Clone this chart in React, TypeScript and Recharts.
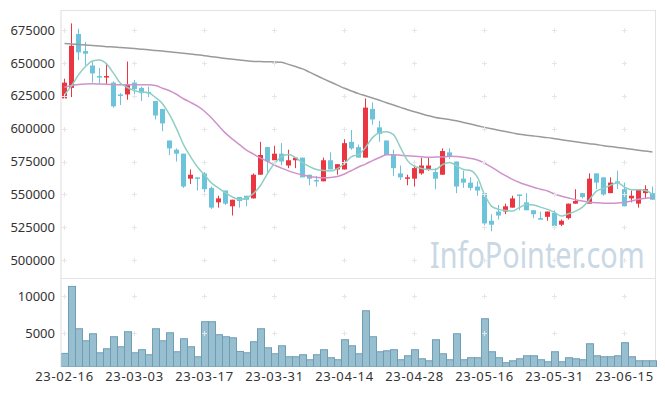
import { Bar, ComposedChart, Line, ReferenceDot, XAxis, YAxis } from "recharts";

const dates = [
  "23-02-16", "23-02-17", "23-02-20", "23-02-21", "23-02-22", "23-02-23", "23-02-24", "23-02-27", "23-02-28", "23-03-02",
  "23-03-03", "23-03-06", "23-03-07", "23-03-08", "23-03-09", "23-03-10", "23-03-13", "23-03-14", "23-03-15", "23-03-16",
  "23-03-17", "23-03-20", "23-03-21", "23-03-22", "23-03-23", "23-03-24", "23-03-27", "23-03-28", "23-03-29", "23-03-30",
  "23-03-31", "23-04-03", "23-04-04", "23-04-05", "23-04-06", "23-04-07", "23-04-10", "23-04-11", "23-04-12", "23-04-13",
  "23-04-14", "23-04-17", "23-04-18", "23-04-19", "23-04-20", "23-04-21", "23-04-24", "23-04-25", "23-04-26", "23-04-27",
  "23-04-28", "23-05-02", "23-05-03", "23-05-04", "23-05-08", "23-05-09", "23-05-10", "23-05-11", "23-05-12", "23-05-15",
  "23-05-16", "23-05-17", "23-05-18", "23-05-19", "23-05-22", "23-05-23", "23-05-24", "23-05-25", "23-05-26", "23-05-30",
  "23-05-31", "23-06-01", "23-06-02", "23-06-05", "23-06-07", "23-06-08", "23-06-09", "23-06-12", "23-06-13", "23-06-14",
  "23-06-15", "23-06-16", "23-06-19", "23-06-20", "23-06-21",
];

const open = [
  623000, 631000, 672000, 659000, 648000, 640000, 639000, 635000, 626000, 626000,
  635000, 631000, 628000, 621000, 615000, 591000, 584000, 581000, 562000, 563000,
  566000, 555000, 544000, 553000, 541000, 548000, 549000, 547000, 565000, 586000,
  576000, 581000, 572000, 576000, 578000, 565000, 561000, 560000, 576000, 569000,
  569000, 590000, 586000, 578000, 615000, 601000, 591000, 580000, 566000, 562000,
  562000, 566000, 569000, 567000, 565000, 582000, 575000, 562000, 559000, 556000,
  551000, 530000, 537000, 537000, 540000, 550000, 544000, 538000, 532000, 533000,
  536000, 527000, 532000, 543000, 551000, 543000, 566000, 563000, 551000, 560000,
  554000, 547000, 543000, 551000, 551000,
];
const high = [
  638000, 680000, 676000, 666000, 651000, 646000, 650000, 636000, 627000, 651000,
  637000, 632000, 632000, 621000, 615000, 591000, 585000, 581000, 569000, 563000,
  567000, 556000, 549000, 553000, 546000, 548000, 549000, 566000, 590000, 586000,
  587000, 589000, 584000, 578000, 578000, 565000, 564000, 578000, 582000, 573000,
  592000, 599000, 588000, 623000, 620000, 606000, 591000, 584000, 572000, 565000,
  572000, 578000, 578000, 570000, 585000, 585000, 575000, 568000, 563000, 560000,
  551000, 535000, 542000, 543000, 549000, 550000, 551000, 538000, 537000, 537000,
  538000, 531000, 543000, 554000, 551000, 566000, 566000, 563000, 563000, 568000,
  559000, 553000, 554000, 557000, 556000,
];
const low = [
  623000, 624000, 652000, 648000, 635000, 634000, 634000, 616000, 618000, 622000,
  624000, 621000, 624000, 607000, 598000, 580000, 575000, 555000, 558000, 553000,
  550000, 539000, 540000, 542000, 534000, 540000, 541000, 547000, 565000, 566000,
  573000, 572000, 570000, 570000, 563000, 557000, 556000, 560000, 569000, 565000,
  569000, 584000, 578000, 578000, 603000, 590000, 580000, 564000, 561000, 557000,
  556000, 565000, 568000, 554000, 565000, 577000, 551000, 555000, 553000, 549000,
  526000, 522000, 531000, 535000, 540000, 538000, 538000, 532000, 531000, 530000,
  526000, 526000, 531000, 543000, 547000, 543000, 554000, 549000, 551000, 554000,
  541000, 544000, 540000, 547000, 546000,
];
const close = [
  635000, 663000, 658000, 657000, 642000, 639000, 640000, 617000, 625000, 634000,
  630000, 627000, 627000, 610000, 604000, 585000, 581000, 556000, 565000, 562000,
  554000, 540000, 547000, 543000, 546000, 545000, 546000, 565000, 580000, 575000,
  581000, 575000, 576000, 578000, 563000, 562000, 560000, 576000, 569000, 573000,
  589000, 585000, 578000, 616000, 607000, 596000, 580000, 570000, 563000, 563000,
  570000, 572000, 572000, 562000, 583000, 579000, 556000, 559000, 555000, 553000,
  528000, 527000, 534000, 541000, 547000, 549000, 538000, 535000, 531000, 537000,
  526000, 530000, 543000, 545000, 548000, 562000, 559000, 550000, 559000, 559000,
  541000, 549000, 554000, 554000, 546000,
];
const volume = [
  2370, 11340, 5670, 4060, 5000, 2450, 2990, 4600, 3260, 5270,
  2450, 2860, 2190, 5670, 4060, 5130, 2590, 4330, 3260, 1920,
  6610, 6610, 4870, 4600, 4460, 2630, 2450, 3930, 5670, 3120,
  2320, 3390, 1920, 1920, 2190, 1520, 2190, 2860, 1790, 1520,
  4200, 3390, 2320, 8080, 4600, 2590, 2720, 2860, 1520, 2050,
  2860, 1650, 1380, 4200, 2320, 1520, 5000, 1520, 1790, 1790,
  7010, 2590, 1790, 1120, 1380, 1650, 2050, 2050, 1520, 1250,
  2590, 1250, 1790, 1650, 1520, 3660, 2050, 1920, 1920, 2050,
  3800, 1920, 1380, 1380, 1380,
];
const ma5 = [
  625750, 632550, 640900, 647200, 651500, 652250, 649250, 642200, 634600, 631300,
  628800, 627800, 627250, 623700, 618950, 610600, 600000, 587900, 578800, 570850,
  564750, 558700, 554900, 551300, 548100, 546200, 547350, 550750, 556800, 565900,
  573500, 578800, 580300, 578050, 574250, 571200, 568950, 568200, 567800, 569700,
  573500, 578800, 580300, 585600, 593200, 596950, 597700, 595450, 585600, 575750,
  571450, 569700, 568950, 568950, 572700, 574250, 571950, 568950, 568200, 562900,
  550000, 541150, 538650, 537850, 537350, 540150, 542400, 541900, 540350, 538650,
  536350, 533550, 535350, 537350, 540350, 546200, 552500, 554550, 557050, 558850,
  555550, 553550, 553550, 553050, 550000,
];
const ma20 = [
  631450, 632750, 633550, 633950, 634100, 633950, 633800, 633550, 633350, 633350,
  633350, 633350, 633350, 632900, 630700, 628800, 626150, 622750, 620050, 617050,
  613250, 608100, 602250, 596600, 592050, 587900, 583700, 580700, 577650, 575150,
  572350, 570050, 567950, 566200, 564750, 563650, 563050, 562700, 562900, 563650,
  565550, 568200, 570850, 573100, 575750, 578050, 580150, 580150, 579850, 579400,
  579000, 578650, 578350, 578400, 578550, 578950, 578800, 578250, 577400, 576150,
  573850, 570850, 567400, 564250, 561500, 559100, 557200, 555450, 554000, 552650,
  550350, 548700, 547350, 546050, 545000, 544100, 543650, 543400, 543400, 543550,
  544100, 545050, 546350, 547100, 547500,
];
const ma60 = [
  664800, 664400, 664000, 663600, 663200, 662800, 662350, 662050, 661650, 661300,
  660900, 660450, 660000, 659450, 658950, 658400, 657900, 657350, 656800, 656150,
  655450, 654750, 654100, 653400, 652800, 652200, 651650, 651150, 651000, 650850,
  650700, 650400, 648850, 647200, 645450, 642950, 640450, 637900, 635450, 633100,
  630700, 628650, 626650, 625000, 623350, 621600, 619750, 617950, 616200, 614400,
  612900, 611350, 609850, 608550, 607700, 606900, 606050, 604750, 603500, 602200,
  601000, 599900, 598850, 597800, 596800, 595750, 595050, 594450, 593850, 593200,
  592400, 591600, 590850, 590000, 589250, 588550, 587900, 587100, 586450, 585750,
  585050, 584400, 583650, 582950, 582250,
];

const priceTicks = [500000, 525000, 550000, 575000, 600000, 625000, 650000, 675000];
const volumeTicks = [5000, 10000];

const rows = dates.map((date, i) => ({
  date,
  open: open[i],
  high: high[i],
  low: low[i],
  close: close[i],
  range: [low[i], high[i]],
  volume: volume[i],
  ma5: ma5[i],
  ma20: ma20[i],
  ma60: ma60[i],
}));

// every 10th trading day gets a label and a grid cross
const gridDates = dates.filter((_, i) => i % 10 === 0);

const tickStyle = { fontSize: 13, fill: "#333" };

function Candle(props: any) {
  const { x, y, width, height, payload } = props;
  if (!payload || height == null) return null;
  const top = Math.min(y, y + height);
  const h = Math.abs(height);
  const span = payload.high - payload.low || 1;
  const toY = (v: number) => top + ((payload.high - v) / span) * h;
  const up = payload.close >= payload.open;
  const color = up ? "#eb3540" : "#6cc3da";
  const cx = Math.floor(x + width / 2) + 0.5;
  const yo = toY(payload.open);
  const yc = toY(payload.close);
  const bodyTop = Math.min(yo, yc);
  const bodyH = Math.max(Math.abs(yo - yc), 1.5);
  return (
    <g>
      <line x1={cx} x2={cx} y1={top} y2={top + h} stroke={color} strokeWidth={1} />
      <rect x={cx - 2.5} y={bodyTop} width={5} height={bodyH} fill={color} />
    </g>
  );
}

function VolumeBar(props: any) {
  const { x, y, width, height } = props;
  if (height == null || height <= 0) return null;
  return (
    <rect x={x + 0.5} y={y + 0.5} width={width} height={Math.max(height - 0.5, 0)} fill="#98bfcf" stroke="#6f9eb4" strokeWidth={1} />
  );
}

function Cross(props: any) {
  const { cx, cy } = props;
  const x = Math.floor(cx) + 0.5;
  const y = Math.round(cy) + 0.5;
  return <path d={`M${x - 2.5},${y}H${x + 2.5}M${x},${y - 2.5}V${y + 2.5}`} stroke="#e6e6e6" strokeWidth={1} fill="none" />;
}

export default function App() {
  return (
    <div style={{ position: "absolute", left: 0, top: 0, width: 665, height: 396, background: "#fff", fontFamily: "'Noto Sans', sans-serif" }}>
      <div style={{ position: "absolute", left: 61, top: 10, width: 595, height: 357, boxSizing: "border-box", borderTop: "1px solid #e3e3e3", borderRight: "1px solid #e3e3e3" }} />
      <div style={{ position: "absolute", left: 61, top: 278, width: 595, height: 1, background: "#e3e3e3" }} />

      <svg width={665} height={396} style={{ position: "absolute", left: 0, top: 0 }}>
        <text transform="translate(430 268) scale(0.8 1)" x={0} y={0} fontSize={36} fill="#c8d8e4">
          InfoPointer.com
        </text>
      </svg>

      <div style={{ position: "absolute", left: 0, top: 0 }}>
        <ComposedChart width={665} height={280} data={rows} margin={{ top: 10, right: 9, bottom: 2, left: 0 }} barCategoryGap={0}>
          <XAxis dataKey="date" hide />
          <YAxis
            domain={[486500, 690200]}
            allowDataOverflow
            ticks={priceTicks}
            width={61}
            tickLine={false}
            tickSize={0}
            tickMargin={6}
            axisLine={{ stroke: "#dddddd" }}
            tick={tickStyle}
          />
          {gridDates.map((d) =>
            priceTicks.map((t) => <ReferenceDot key={d + t} x={d} y={t} shape={Cross} />)
          )}
          <Bar dataKey="range" shape={Candle} isAnimationActive={false} />
          <Line type="monotone" dataKey="ma60" stroke="#9a9a9a" strokeWidth={1.5} dot={false} isAnimationActive={false} />
          <Line type="monotone" dataKey="ma20" stroke="#cf93cb" strokeWidth={1.5} dot={false} isAnimationActive={false} />
          <Line type="monotone" dataKey="ma5" stroke="#8ecfc4" strokeWidth={1.5} dot={false} isAnimationActive={false} />
        </ComposedChart>
      </div>

      <div style={{ position: "absolute", left: 0, top: 278 }}>
        <ComposedChart width={665} height={118} data={rows} margin={{ top: 0, right: 9, bottom: 0, left: 0 }} barCategoryGap={0}>
          <XAxis
            dataKey="date"
            interval={9}
            height={29}
            tickLine={false}
            tickSize={0}
            tickMargin={5}
            axisLine={false}
            tick={{ ...tickStyle, letterSpacing: 0.7 }}
          />
          <YAxis
            domain={[480, 12400]}
            allowDataOverflow
            ticks={volumeTicks}
            width={61}
            tickLine={false}
            tickSize={0}
            tickMargin={6}
            axisLine={{ stroke: "#dddddd" }}
            tick={tickStyle}
          />
          {gridDates.map((d) =>
            volumeTicks.map((t) => <ReferenceDot key={d + t} x={d} y={t} shape={Cross} />)
          )}
          <Bar dataKey="volume" shape={VolumeBar} isAnimationActive={false} />
        </ComposedChart>
      </div>
    </div>
  );
}
